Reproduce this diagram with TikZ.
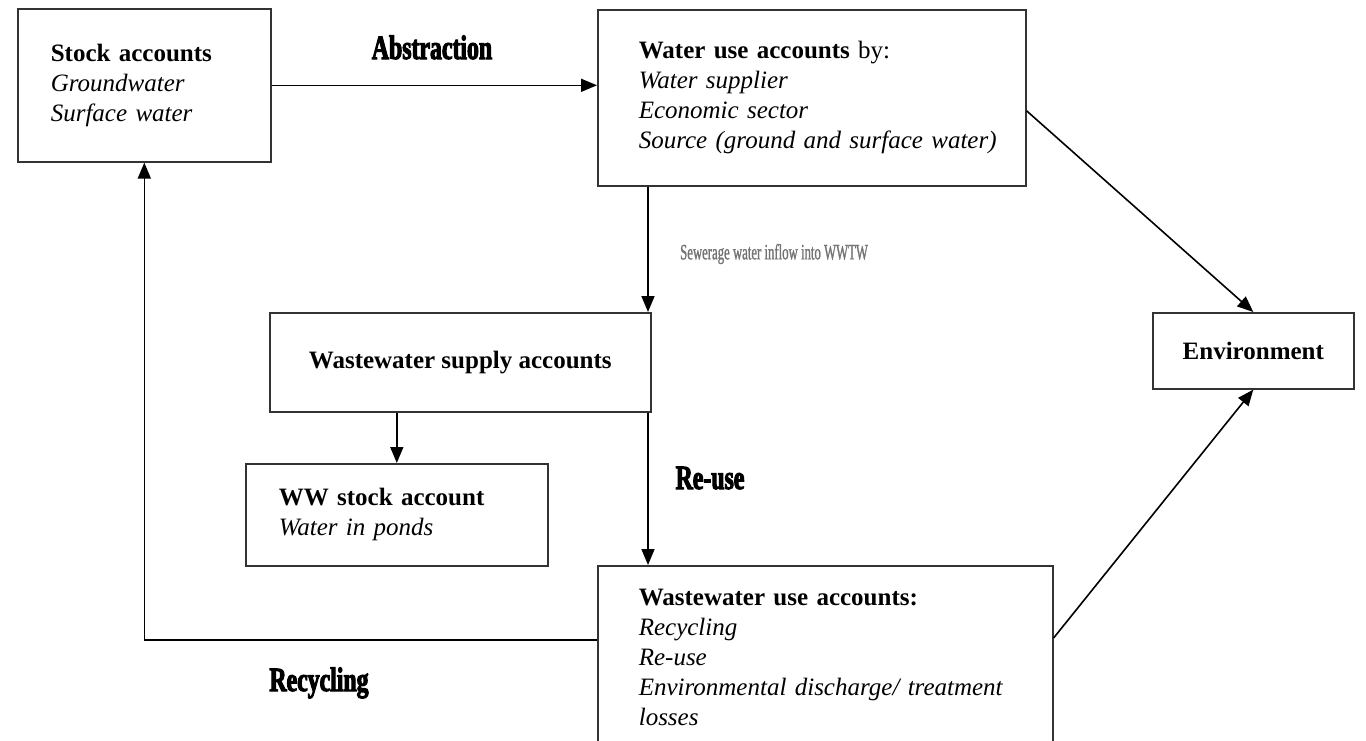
\documentclass[tikz,border=0pt]{standalone}
\usepackage{fontspec}
\setmainfont{Liberation Serif}
\newfontfamily\heavyfont[FakeStretch=0.7,BoldFeatures={FakeBold=3}]{Liberation Serif}
\newfontfamily\narrowfont[FakeStretch=0.58,FakeBold=1]{Liberation Serif}
\usepackage{tikz}
\usetikzlibrary{shapes,arrows.meta,positioning,calc}

\begin{document}
\begin{tikzpicture}[x=1pt, y=-1pt,
	account/.style={rectangle, draw=black!80, line width=1.6pt, anchor=north west, align=left, font=\fontsize{25}{30}\selectfont},
	flow/.style={-{Triangle[length=16pt,width=13pt]}, line width=1.6pt, draw=black},
	flowlabel/.style={inner sep=0pt, anchor=base, font=\heavyfont\bfseries\fontsize{34}{34}\selectfont}]
	\useasboundingbox (0,0) rectangle (1366,740);

	% accounts
	\node[account, minimum width=253pt, minimum height=153pt, inner xsep=33pt, text width=187pt] (stock) at (17,8) {\textbf{Stock accounts}\\\textit{Groundwater}\\\textit{Surface water}};
	\node[account, minimum width=428pt, minimum height=176pt, inner xsep=41pt, text width=346pt] (wateruse) at (597,9) {\textbf{Water use accounts} by:\\\textit{Water supplier}\\\textit{Economic sector}\\\mbox{\textit{Source (ground and surface water)}}};
	\node[account, minimum width=381pt, minimum height=99pt] (wwsupply) at (269,312) {\textbf{Wastewater supply accounts}};
	\node[account, minimum width=302pt, minimum height=102pt, inner xsep=33pt, text width=236pt] (wwstock) at (245,463) {\textbf{WW stock account}\\\textit{Water in ponds}};
	\node[account, minimum width=455pt, minimum height=183pt, inner xsep=41pt, text width=373pt] (wwuse) at (597,565) {\textbf{Wastewater use accounts:}\\\textit{Recycling}\\\textit{Re-use}\\\mbox{\textit{Environmental discharge/ treatment}}\\\textit{losses}};
	\node[account, minimum width=201pt, minimum height=76pt] (env) at (1152,312) {\textbf{Environment}};

	% labels
	\node[flowlabel] (abstraction) at (432,59) {Abstraction};
	\node[flowlabel] (reuse) at (710,489) {Re-use};
	\node[flowlabel] (recycling) at (319,691) {Recycling};
	\node[inner sep=0pt, anchor=west, text=black!55, font=\narrowfont\fontsize{22}{22}\selectfont] (sewerage) at (680,254) {Sewerage water inflow into WWTW};

	% flows
	\coordinate (drop) at ([xshift=51pt]wateruse.south west);
	\draw[flow] (stock.east) -- (stock.east -| wateruse.west);
	\draw[flow] (drop) -- (drop |- wwsupply.north);
	\draw[flow] ([yshift=-13pt]wateruse.east) -- (env.north);
	\draw[flow] (wwstock.north |- wwsupply.south) -- (wwstock.north);
	\draw[flow] (drop |- wwsupply.south) -- (drop |- wwuse.north);
	\draw[flow] ([yshift=-73pt]wwuse.north east) -- (env.south);
	\draw[flow] ([yshift=-75pt]wwuse.north west) -| (stock.south);
\end{tikzpicture}
\end{document}
